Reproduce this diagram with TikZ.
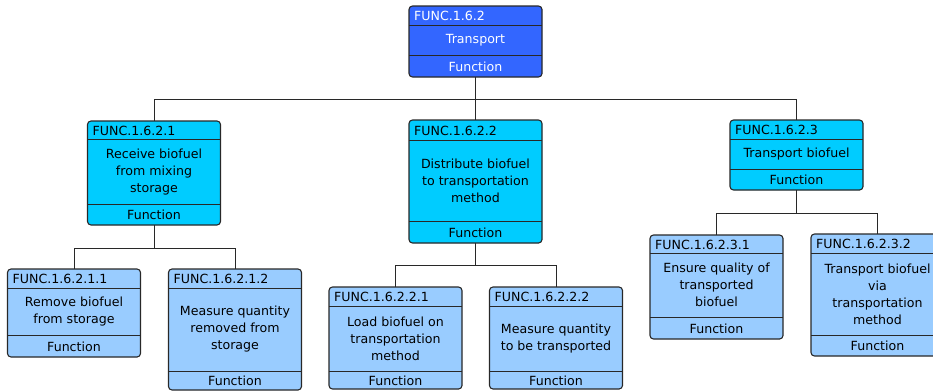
\documentclass[tikz,border=0pt]{standalone}
\usepackage{fontspec}
\setmainfont{DejaVu Sans}
\definecolor{topblue}{RGB}{51,102,255}
\definecolor{midblue}{RGB}{0,204,255}
\definecolor{lowblue}{RGB}{153,204,255}
\definecolor{edgegray}{RGB}{40,40,40}
\tikzset{
  fbx/.style={draw=edgegray, line width=1.1pt, rounded corners=3.5pt, inner sep=0pt, outer sep=0pt, minimum width=133pt},
  divl/.style={draw=edgegray, line width=1pt},
  conn/.style={draw=edgegray, line width=1pt},
  ftext/.style={inner sep=0pt, font=\fontsize{12.6}{17}\selectfont, align=center},
}
% #1 name, #2 center x, #3 top, #4 header divider, #5 footer divider, #6 bottom, #7 fill, #8 text colour, #9 id
\newcommand\funcbox[9]{%
  \node[fbx, fill=#7, minimum height={(#6-#3)*1pt}, anchor=north] (#1) at (#2,#3) {};
  \draw[divl] ({#2-66.5},#4) -- ({#2+66.5},#4);
  \draw[divl] ({#2-66.5},#5) -- ({#2+66.5},#5);
  \node[ftext, text=#8, anchor=west] (#1-id) at ({#2-61.5},{(#3+#4)/2+0.5}) {#9};
  \node[ftext, text=#8] (#1-ft) at (#2,{(#5+#6)/2+0.5}) {Function};
}
\newcommand\funcbody[4]{% #1 name, #2 x, #3 y, #4 text
  \node[ftext, text=#1col] (#1-bd) at (#2,#3) {#4};
}
\begin{document}
\begin{tikzpicture}[x=1pt,y=-1pt]
\useasboundingbox (0,0) rectangle (933,391);
\clip (0,0) rectangle (933,391);
\fill[white] (0,0) rectangle (933,391);

% connectors
\coordinate (bus0) at (475.5,99);
\coordinate (bus1) at (154,248);
\coordinate (bus2) at (475.5,265);
\coordinate (bus3) at (796.5,213);

% top
\funcbox{top}{475.5}{6}{25}{55}{77}{topblue}{white}{FUNC.1.6.2}
\node[ftext, text=white] (top-bd) at (475.5,40.5) {Transport};

% level 2
\funcbox{c1}{154}{121}{139}{204}{225}{midblue}{black}{FUNC.1.6.2.1}
\node[ftext] (c1-bd) at (154,172) {Receive biofuel\\from mixing\\storage};
\funcbox{c2}{475.5}{120}{140}{221}{243}{midblue}{black}{FUNC.1.6.2.2}
\node[ftext] (c2-bd) at (475.5,181) {Distribute biofuel\\to transportation\\method};
\funcbox{c3}{796.5}{120}{139}{169}{190}{midblue}{black}{FUNC.1.6.2.3}
\node[ftext] (c3-bd) at (796.5,154.5) {Transport biofuel};

% level 3
\funcbox{g11}{74}{269}{288}{335}{357}{lowblue}{black}{FUNC.1.6.2.1.1}
\node[ftext] (g11-bd) at (74,312) {Remove biofuel\\from storage};
\funcbox{g12}{235}{269}{288}{371}{390}{lowblue}{black}{FUNC.1.6.2.1.2}
\node[ftext] (g12-bd) at (235,329.5) {Measure quantity\\removed from\\storage};
\funcbox{g21}{395.5}{287}{306}{371}{389}{lowblue}{black}{FUNC.1.6.2.2.1}
\node[ftext] (g21-bd) at (395.5,338.5) {Load biofuel on\\transportation\\method};
\funcbox{g22}{556}{287}{306}{371}{389}{lowblue}{black}{FUNC.1.6.2.2.2}
\node[ftext] (g22-bd) at (556,338.5) {Measure quantity\\to be transported};
\funcbox{g31}{716.5}{235}{253}{317}{339}{lowblue}{black}{FUNC.1.6.2.3.1}
\node[ftext] (g31-bd) at (716.5,285) {Ensure quality of\\transported\\biofuel};
\funcbox{g32}{877.5}{234}{253}{335}{356}{lowblue}{black}{FUNC.1.6.2.3.2}
\node[ftext] (g32-bd) at (877.5,294) {Transport biofuel\\via\\transportation\\method};

\draw[conn] (top.south) -- (bus0);
\draw[conn] (bus0) -| (c1.north);
\draw[conn] (bus0) -- (c2.north);
\draw[conn] (bus0) -| (c3.north);
\draw[conn] (c1.south) -- (bus1);
\draw[conn] (bus1) -| (g11.north);
\draw[conn] (bus1) -| (g12.north);
\draw[conn] (c2.south) -- (bus2);
\draw[conn] (bus2) -| (g21.north);
\draw[conn] (bus2) -| (g22.north);
\draw[conn] (c3.south) -- (bus3);
\draw[conn] (bus3) -| (g31.north);
\draw[conn] (bus3) -| (g32.north);
\end{tikzpicture}
\end{document}
